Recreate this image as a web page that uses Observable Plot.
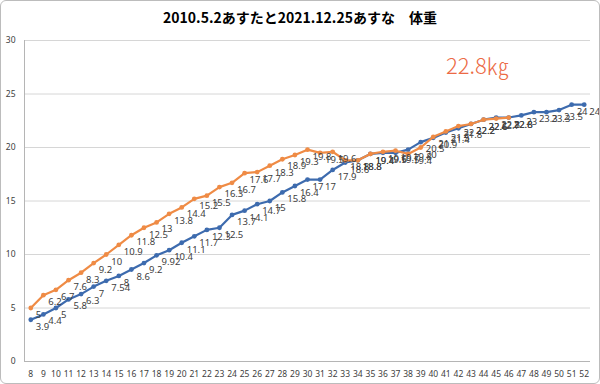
<!DOCTYPE html>
<html>
<head>
<meta charset="utf-8">
<script src="https://cdn.jsdelivr.net/npm/d3@7"></script>
<script src="https://cdn.jsdelivr.net/npm/@observablehq/plot@0.6"></script>
<style>
  html, body { margin: 0; padding: 0; background: #fff; }
  #wrap { position: relative; width: 600px; height: 384px; overflow: hidden; font-family: "Noto Sans CJK JP", "Noto Sans", sans-serif; }
  #title { height: 30px; box-sizing: border-box; padding-top: 7px; text-align: center; font-size: 14px; font-weight: bold; color: #000; line-height: 20px; }
  #frame { position: absolute; left: 0; top: 0; width: 598px; height: 382px; border: 1px solid #bcbcbc; border-radius: 6px; pointer-events: none; }
  #note { position: absolute; left: 446px; top: 49px; font-size: 22px; font-weight: 300; color: #EC6A45; line-height: 30px; }
  svg { display: block; }
</style>
</head>
<body>
<div id="wrap">
  <div id="title">2010.5.2あすたと2021.12.25あすな　体重</div>
  <div id="chart"></div>
  <div id="note">22.8㎏</div>
  <div id="frame"></div>
</div>
<script>
const titleText = "2010.5.2あすたと2021.12.25あすな　体重";
const noteText = "22.8㎏";
const weeks = d3.range(8, 53);
const yTicks = [0, 5, 10, 15, 20, 25, 30];
// あすた (blue), weeks 8..52
const blueValues = [3.9, 4.4, 5, 5.8, 6.3, 7, 7.54, 8, 8.6, 9.2, 9.92, 10.4, 11.1, 11.7, 12.3, 12.5,
  13.7, 14.1, 14.7, 15, 15.8, 16.4, 17, 17, 17.9, 18.6, 18.8, 19.4, 19.5, 19.5, 19.8, 20.5, 20.9,
  21.4, 21.8, 22.2, 22.6, 22.8, 22.8, 23, 23.3, 23.3, 23.5, 24, 24];
// あすな (orange), weeks 8..46
const orangeValues = [5, 6.2, 6.7, 7.6, 8.3, 9.2, 10, 10.9, 11.8, 12.5, 13, 13.8, 14.4, 15.2, 15.5,
  16.3, 16.7, 17.6, 17.7, 18.3, 18.9, 19.3, 19.8, 19.5, 19.6, 18.8, 18.8, 19.4, 19.6, 19.7, 19.4,
  20, 21, 21.5, 22, 22.2, 22.6, 22.7, 22.8];
const blueColor = "#3D6BAE";
const orangeColor = "#EF8B45";

const blue = blueValues.map((v, i) => ({week: weeks[i], value: v}));
const orange = orangeValues.map((v, i) => ({week: weeks[i], value: v}));

const seriesMarks = (data, color) => [
  Plot.line(data, {x: "week", y: "value", stroke: color, strokeWidth: 2.2}),
  Plot.dot(data, {x: "week", y: "value", fill: color, r: 2.4, symbol: "circle"})
];
const labelMarks = (data) => Plot.text(data, {
  x: "week", y: "value", text: d => String(d.value), textAnchor: "start",
  dx: 5, dy: 7, fontSize: 9.5, fill: "#404040"
});

const chart = Plot.plot({
  width: 600, height: 354,
  marginTop: 10, marginBottom: 23, marginLeft: 24, marginRight: 10,
  style: {fontFamily: "'Noto Sans', 'DejaVu Sans', sans-serif", background: "transparent"},
  x: {type: "linear", domain: [7.5, 52.5], label: null},
  y: {domain: [0, 30], label: null},
  marks: [
    Plot.gridY(yTicks.filter(d => d > 0), {stroke: "#d6d6d6", strokeOpacity: 1}),
    Plot.ruleY([0], {stroke: "#b5b5b5"}),
    Plot.ruleX([7.5], {stroke: "#b5b5b5"}),
    Plot.axisX(weeks, {tickSize: 0, tickPadding: 9, fontSize: 8.5, fill: "#404040", tickFormat: d => String(d), label: null}),
    Plot.axisY(yTicks, {tickSize: 0, tickPadding: 9, fontSize: 8.5, fill: "#404040", label: null}),
    ...seriesMarks(blue, blueColor),
    ...seriesMarks(orange, orangeColor),
    labelMarks(orange),
    labelMarks(blue)
  ]
});
document.getElementById("chart").appendChild(chart);
</script>
</body>
</html>
